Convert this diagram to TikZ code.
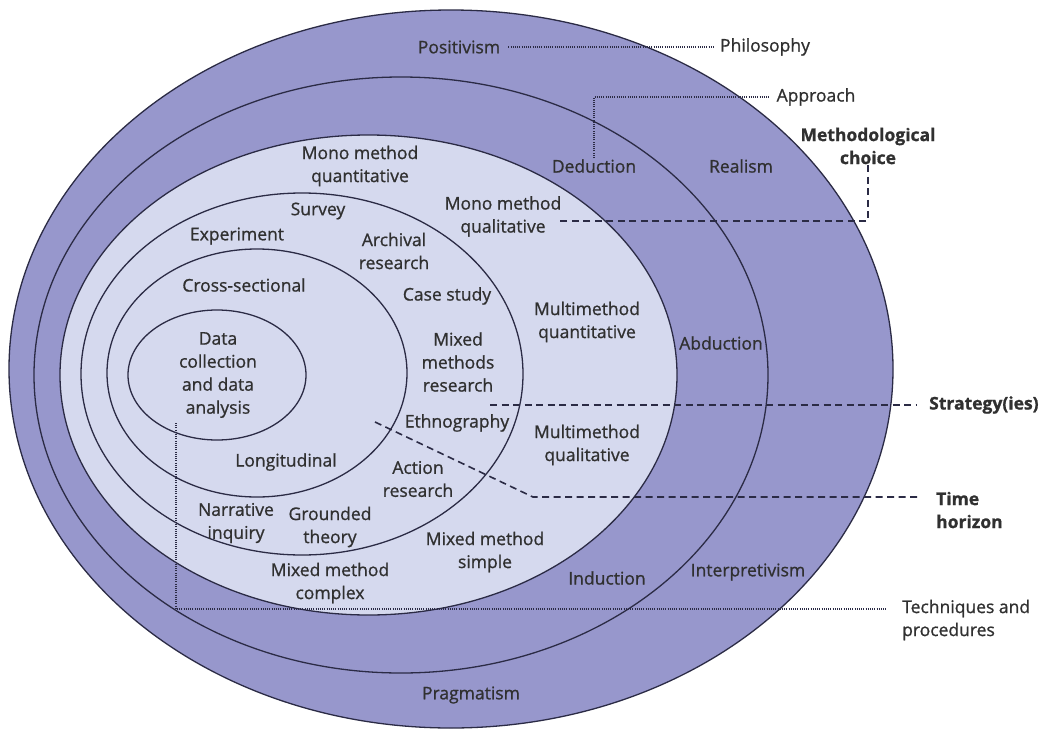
\documentclass[tikz,border=0pt]{standalone}
\usepackage{fontspec}
\setmainfont{Open Sans}[FakeBold=0.9]
\newfontfamily\boldf{Open Sans Bold}[FakeBold=0.3]
\definecolor{dark}{HTML}{9797CC}
\definecolor{light}{HTML}{D5D9EE}
\definecolor{linec}{HTML}{2B2B45}
\definecolor{txt}{HTML}{303030}
\begin{document}
\begin{tikzpicture}[x=1pt,y=-1pt,
  ring/.style={draw=linec, line width=1.3pt},
  lbl/.style={font=\fontsize{17.5}{23}\selectfont, text=txt, align=center, inner sep=1pt},
  bl/.style={font=\fontsize{17.5}{23}\selectfont\bfseries, text=txt, align=center, inner sep=1pt},
  dotl/.style={draw=linec, line width=1.1pt, dash pattern=on 1pt off 1.2pt},
  dashl/.style={draw=linec, line width=1.6pt, dash pattern=on 7pt off 4.5pt}]
\useasboundingbox (0,0) rectangle (1039,731);
\fill[white] (0,0) rectangle (1039,731);
% rings
\filldraw[fill=dark, ring] (451,369) ellipse [x radius=442pt, y radius=359pt];
\draw[ring] (401,375) ellipse [x radius=367pt, y radius=298pt];
\filldraw[fill=light, ring] (368.5,375) ellipse [x radius=308.5pt, y radius=240pt];
\draw[ring] (302,374) ellipse [x radius=221pt, y radius=181pt];
\draw[ring] (257,373) ellipse [x radius=150pt, y radius=124pt];
\draw[ring] (217,375) ellipse [x radius=89pt, y radius=65pt];
% labels
\node[lbl] (pos) at (459,47) {Positivism};
\node[lbl] (phil) at (765,47) {Philosophy};
\node[lbl] (appr) at (816,97) {Approach};
\node[bl] (mc) at (868,146) {Methodological\\choice};
\node[lbl] (ded) at (594,166) {Deduction};
\node[lbl] (real) at (741,166) {Realism};
\node[lbl] (mmqn) at (360,166) {Mono method\\quantitative};
\node[lbl] (mmql) at (503,216.5) {Mono method\\qualitative};
\node[lbl] (surv) at (318,211) {Survey};
\node[lbl] (exp) at (237,236) {Experiment};
\node[lbl] (arch) at (394,251) {Archival\\research};
\node[lbl] (cs) at (244,285) {Cross-sectional};
\node[lbl] (case) at (447,296) {Case study};
\node[lbl] (mtqn) at (587,322) {Multimethod\\quantitative};
\node[lbl] (mix) at (458,362) {Mixed\\methods\\research};
\node[lbl] (data) at (218,375) {Data\\collection\\and data\\analysis};
\node[lbl] (abd) at (721,343) {Abduction};
\node[bl, anchor=west] (strat) at (928,405) {Strategy(ies)};
\node[lbl] (eth) at (457,423) {Ethnography};
\node[lbl] (mtql) at (587,445) {Multimethod\\qualitative};
\node[lbl] (long) at (286,462) {Longitudinal};
\node[lbl] (act) at (418,479) {Action\\research};
\node[bl, align=left, anchor=west] (time) at (935,510) {Time\\horizon};
\node[lbl] (narr) at (236,523) {Narrative\\inquiry};
\node[lbl] (grnd) at (330,527) {Grounded\\theory};
\node[lbl] (mms) at (485,552) {Mixed method\\simple};
\node[lbl] (mmc) at (330,583) {Mixed method\\complex};
\node[lbl] (ind) at (607,578) {Induction};
\node[lbl] (interp) at (748,572) {Interpretivism};
\node[lbl, align=left, anchor=west] (tech) at (901,620) {Techniques and\\procedures};
\node[lbl] (prag) at (471,695) {Pragmatism};
% leader coordinates
\coordinate (mcend) at (558,221);
\coordinate (s0) at (490,405);
\coordinate (t0) at (375,422);
\coordinate (t1) at (533,497);
\coordinate (k0) at (176,423);
\coordinate (k1) at (176,609);
% leaders
\draw[dotl] ([xshift=7pt]pos.east) -- ([xshift=-4pt]phil.west);
\draw[dotl] (ded.north) |- ([xshift=-5pt]appr.west);
\draw[dashl] (mc.south) |- (mcend);
\draw[dashl] (s0) -- ([xshift=-12pt]strat.west);
\draw[dashl] (t0) -- (t1) -- ([xshift=-15pt]time.west |- t1);
\draw[dotl] (k0) -- (k1) -- ([xshift=-14pt]tech.west |- k1);
\end{tikzpicture}
\end{document}
